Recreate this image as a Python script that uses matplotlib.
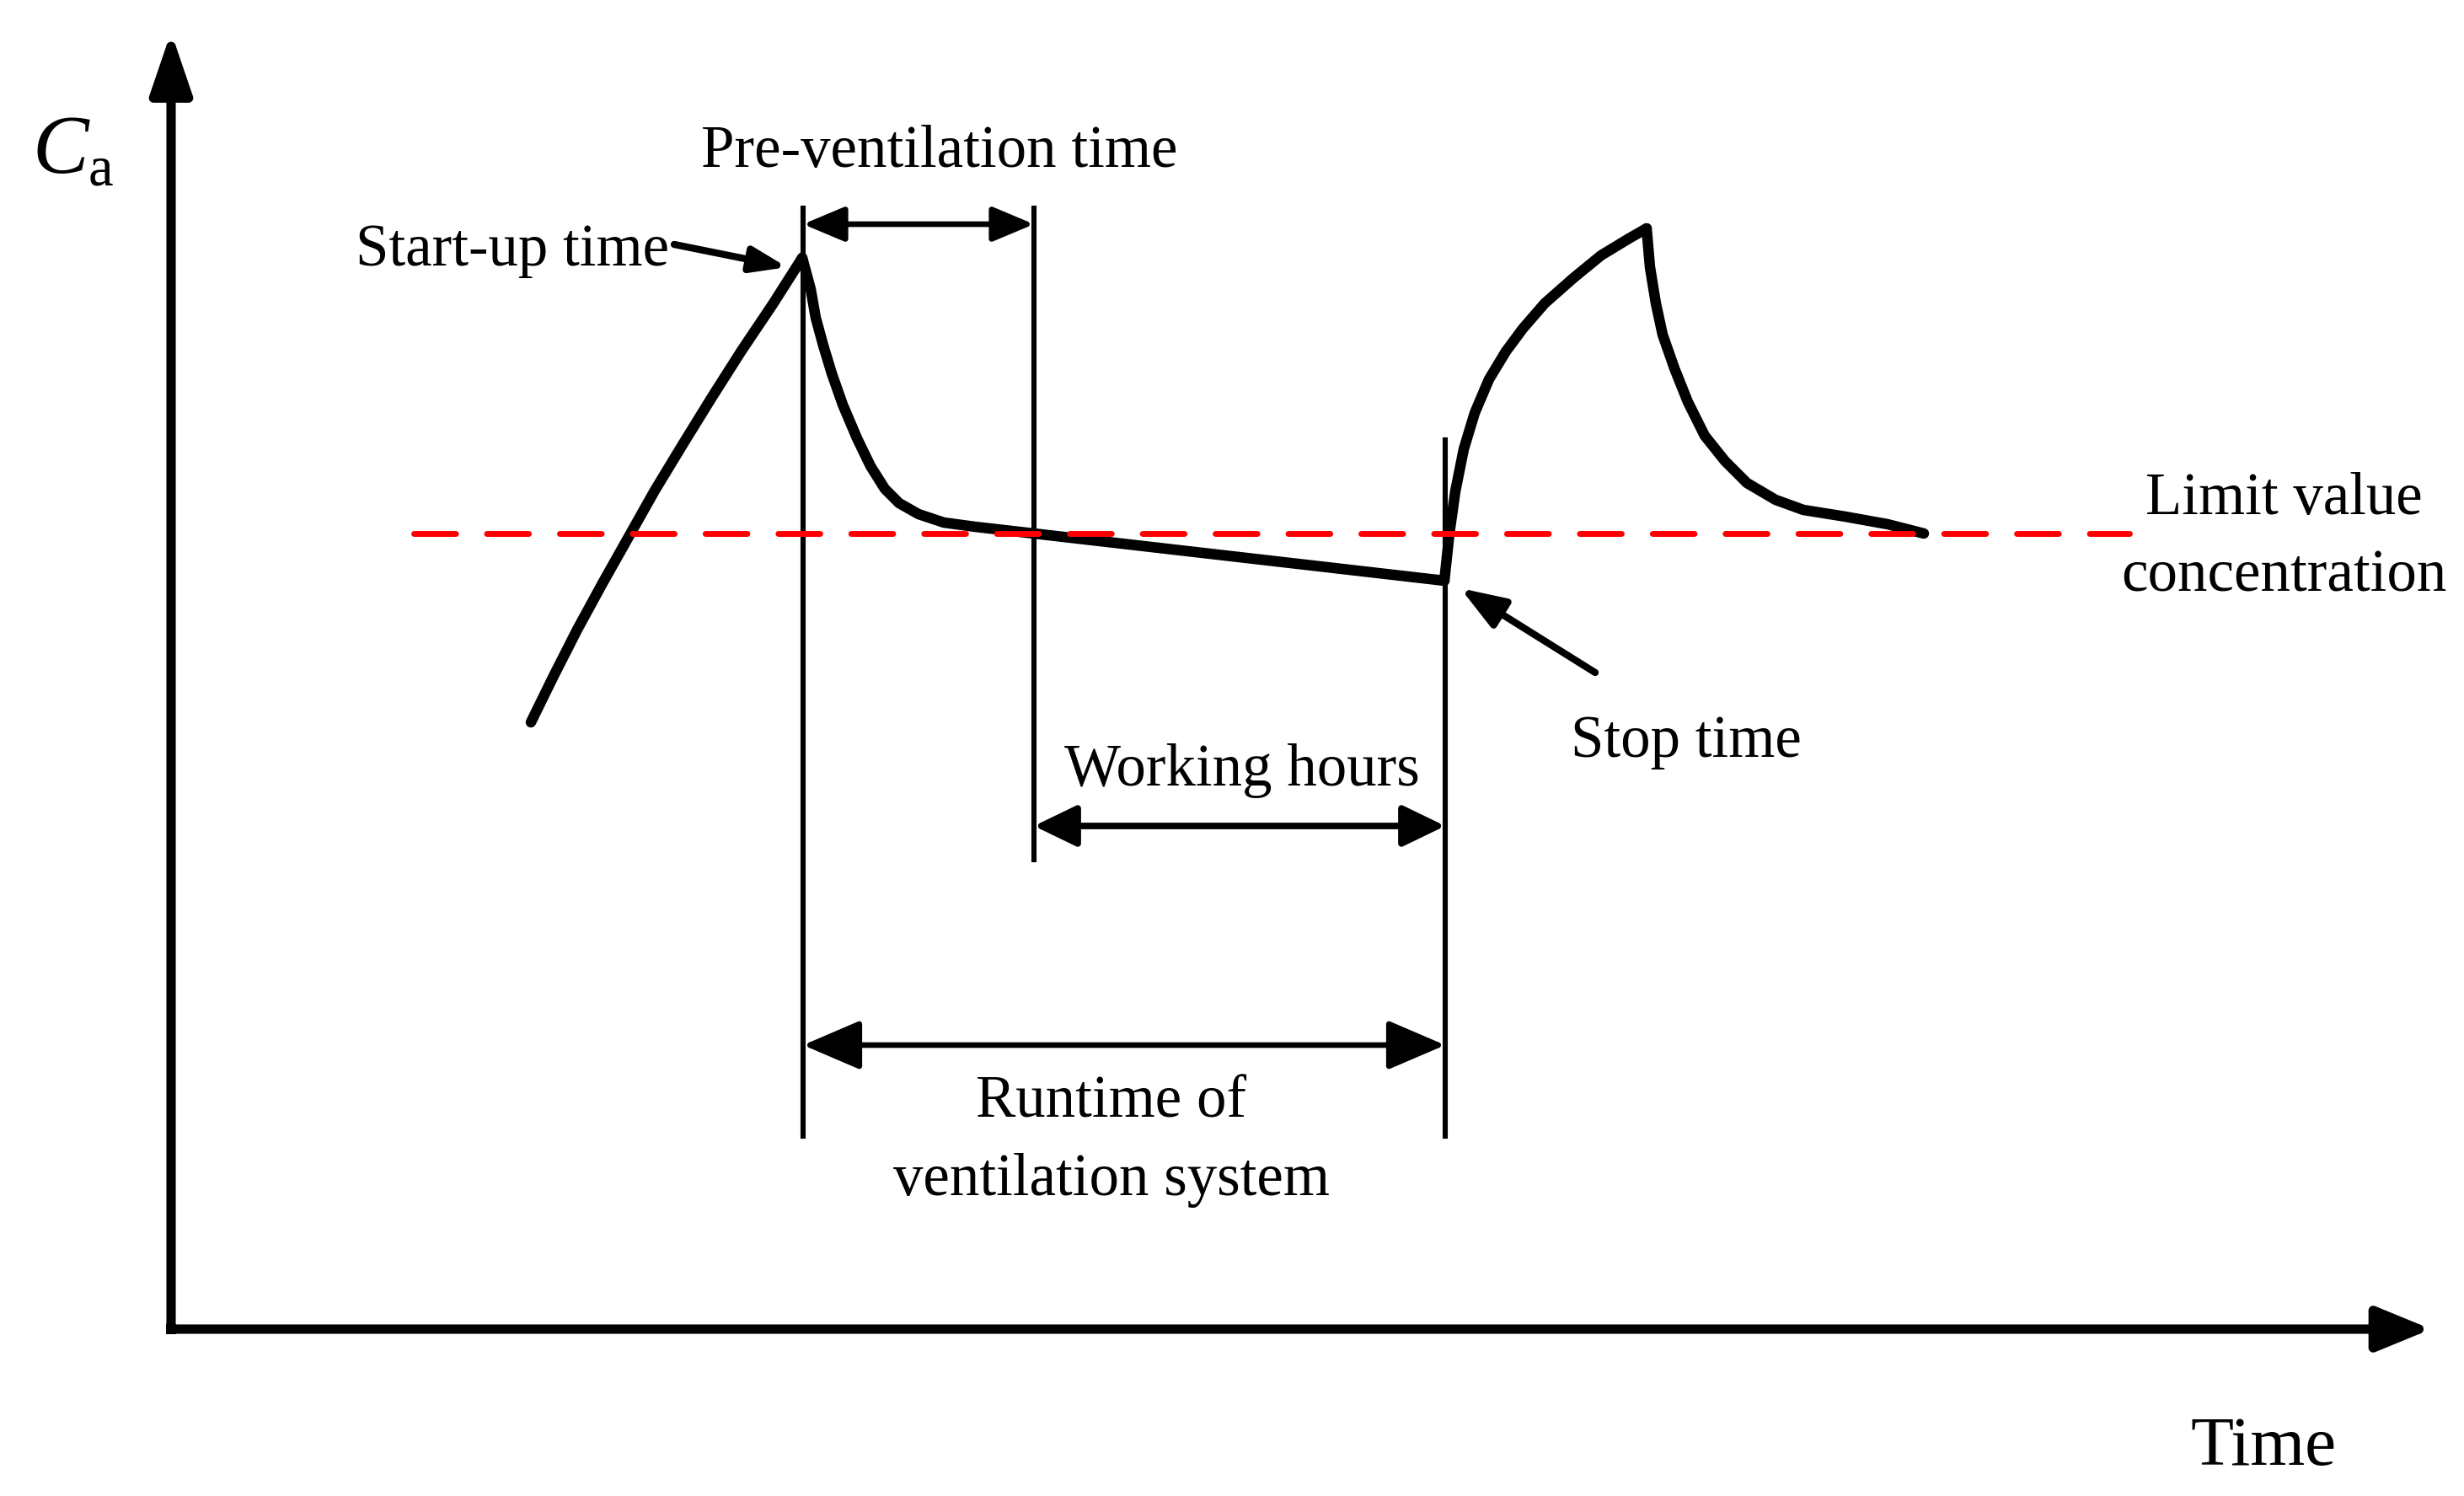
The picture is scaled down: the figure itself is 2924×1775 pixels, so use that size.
import numpy as np
import matplotlib.pyplot as plt

plt.rcParams['font.family'] = ['Liberation Serif', 'DejaVu Serif']

# schematic: time vs concentration C_a (arbitrary units)
# rise before the ventilation system starts
t_rise = [4.27, 4.54, 4.82, 5.12, 5.43, 5.74, 6.08, 6.42, 6.77, 7.14, 7.49]
c_rise = [7.20, 7.75, 8.30, 8.85, 9.40, 9.95, 10.51, 11.06, 11.61, 12.16, 12.71]
# pre-ventilation decay and working period
t_run = [7.49, 7.59, 7.65, 7.74, 7.84, 7.97, 8.14, 8.30, 8.47, 8.64, 8.87, 9.17, 9.54, 10.24, 15.11]
c_run = [12.71, 12.34, 12.00, 11.67, 11.34, 10.97, 10.57, 10.24, 9.97, 9.80, 9.67, 9.57, 9.52, 9.44, 8.88]
# rise after stop
t_rise2 = [15.11, 15.17, 15.24, 15.34, 15.47, 15.64, 15.84, 16.04, 16.30, 16.64, 16.97, 17.30, 17.51]
c_rise2 = [8.88, 9.44, 9.94, 10.44, 10.87, 11.27, 11.60, 11.87, 12.17, 12.47, 12.74, 12.94, 13.06]
# next decay
t_fall2 = [17.51, 17.55, 17.62, 17.70, 17.84, 18.00, 18.20, 18.44, 18.70, 19.04, 19.37, 19.87, 20.37, 20.80]
c_fall2 = [13.06, 12.60, 12.17, 11.80, 11.40, 11.00, 10.60, 10.30, 10.04, 9.84, 9.72, 9.64, 9.55, 9.44]

limit_c = 9.44
limit_t = [2.88, 23.24]

t_start, t_work, t_stop = 7.50, 10.24, 15.12
c_top_start, c_top_stop, c_bottom, c_bottom_work = 13.30, 10.55, 2.29, 5.57
c_prevent, c_working, c_runtime = 13.11, 5.97, 3.37

t_axis_end, c_axis_end = 26.82, 15.39

fig = plt.figure(figsize=(14.62, 8.875), dpi=200)
ax = fig.add_axes([0, 0, 1, 1])
ax.set_xlim(-2.03, 27.21)
ax.set_ylim(-1.98, 15.77)
ax.axis('off')


def arrow(p0, p1, style, lw, zorder=3):
    ax.annotate('', xy=p1, xytext=p0,
                arrowprops=dict(arrowstyle=style, color='black', lw=lw, mutation_scale=1,
                                shrinkA=0, shrinkB=0),
                zorder=zorder)


# axes arrows
arrow((0, 0), (0, c_axis_end), '-|>,head_length=22,head_width=7.5', 4)
arrow((0, 0), (t_axis_end, 0), '-|>,head_length=19.5,head_width=8', 4)
ax.plot([0], [0], marker='s', ms=4, mew=0, color='black', zorder=3)

# concentration curve
for tt, cc in [(t_rise, c_rise), (t_run, c_run), (t_rise2, c_rise2), (t_fall2, c_fall2)]:
    ax.plot(tt, cc, color='black', lw=4.5, solid_capstyle='round', solid_joinstyle='round', zorder=4)

# limit value line
ax.plot(limit_t, [limit_c, limit_c], color='#ff0000', lw=2.5, dashes=(7.15, 5.3),
        dash_capstyle='round', zorder=5)

# vertical markers
ax.plot([t_start, t_start], [c_bottom, c_top_start], color='black', lw=2.2, zorder=3)
ax.plot([t_work, t_work], [c_bottom_work, c_top_start], color='black', lw=2.2, zorder=3)
ax.plot([t_stop, t_stop], [c_bottom, c_top_stop], color='black', lw=2.2, zorder=3)

# span arrows
arrow((t_start, c_prevent), (t_work, c_prevent), '<|-|>,head_length=15,head_width=6.3', 2.4)
arrow((t_work, c_working), (t_stop, c_working), '<|-|>,head_length=15.5,head_width=7.5', 2.8)
arrow((t_start, c_runtime), (t_stop, c_runtime), '<|-|>,head_length=21,head_width=9', 2.4)

# pointer arrows
arrow((5.97, 12.87), (7.31, 12.60), '-|>,head_length=12.5,head_width=4.5', 3)
arrow((16.90, 7.79), (15.30, 8.79), '-|>,head_length=16,head_width=5.8', 3)

fs = 25.5
ax.text(9.12, 13.79, 'Pre-ventilation time', fontsize=fs, ha='center', va='baseline')
ax.text(5.91, 12.62, 'Start-up time', fontsize=fs, ha='right', va='baseline')
ax.text(12.71, 6.45, 'Working hours', fontsize=fs, ha='center', va='baseline')
ax.text(17.98, 6.79, 'Stop time', fontsize=fs, ha='center', va='baseline')
ax.text(25.07, 9.67, 'Limit value', fontsize=fs, ha='center', va='baseline')
ax.text(25.07, 8.75, 'concentration', fontsize=fs, ha='center', va='baseline')
ax.text(11.16, 2.52, 'Runtime of', fontsize=fs, ha='center', va='baseline')
ax.text(11.16, 1.59, 'ventilation system', fontsize=fs, ha='center', va='baseline')
ax.text(24.83, -1.61, 'Time', fontsize=30, ha='center', va='baseline')
ax.text(-1.65, 13.72, 'C', fontsize=36, style='italic', ha='left', va='baseline')
ax.text(-0.98, 13.57, 'a', fontsize=24, ha='left', va='baseline')

fig.savefig('out.png', dpi=200)
